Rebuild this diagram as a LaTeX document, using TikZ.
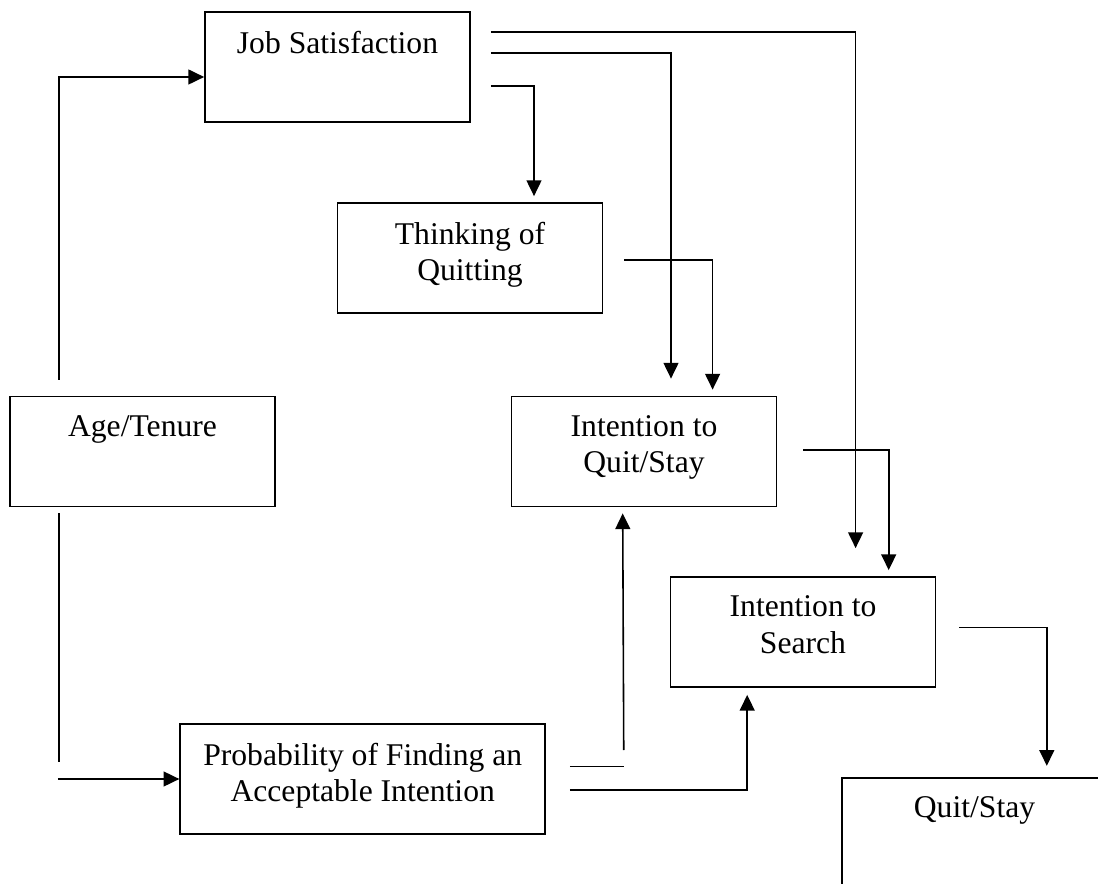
\documentclass[tikz,border=0pt]{standalone}
\usepackage{fontspec}
\setmainfont{Liberation Serif}
\usetikzlibrary{arrows.meta,calc}

\begin{document}
\begin{tikzpicture}[x=0.02cm, y=-0.02cm,
    box/.style={draw, line width=1pt, minimum width=5.3cm, minimum height=2.2cm, inner sep=0pt},
    txt/.style={anchor=north, inner sep=0pt, yshift=-11pt, align=center, font=\fontsize{18}{20.8}\selectfont},
    link/.style={line width=0.9pt},
    arr/.style={link, -{Triangle[length=9pt,width=8.5pt]}}]
    \useasboundingbox (0,0) rectangle (1098,884);
    \clip (0,0) rectangle (1098,884);

    \node[box, label={[txt]north:Job Satisfaction}] (jobsat) at (337.5,67) {};
    \node[box, label={[txt]north:{Thinking of\\Quitting}}] (think) at (470,258) {};
    \node[box, label={[txt]north:Age/Tenure}] (age) at (142.5,451.5) {};
    \node[box, label={[txt]north:{Intention to\\Quit/Stay}}] (intquit) at (644,451.5) {};
    \node[box, label={[txt]north:{Intention to\\Search}}] (intsearch) at (803,632) {};
    \node[box, minimum width=7.3cm, label={[txt]north:{Probability of Finding an\\Acceptable Intention}}] (prob) at (362.7,779) {};
    \node[box, label={[txt]north:Quit/Stay}] (quitstay) at (974.5,833) {};

    % age/tenure
    \draw[arr] ($(age.north)+(-83.5,-16)$) |- ($(jobsat.west)+(0,10)$);
    \draw[link] ($(age.south)+(-83.5,6)$) -- ($(age.south)+(-83.5,255)$);
    \draw[arr] ($(prob.west)+(-121.4,0)$) -- (prob.west);

    % job satisfaction
    \draw[arr] ($(jobsat.east)+(20,19)$) -| ($(think.north)+(64,-6)$);
    \draw[arr] ($(jobsat.east)+(20,-14)$) -| ($(intquit.north)+(27,-17)$);
    \draw[arr] ($(jobsat.east)+(20,-35)$) -| ($(intsearch.north)+(52.6,-28)$);

    \draw[arr] ($(think.east)+(20.7,2)$) -| ($(intquit.north)+(68.6,-6)$);
    \draw[arr] ($(intquit.east)+(26,-1.5)$) -| ($(intsearch.north)+(85.7,-6)$);

    % probability
    \draw[link] ($(prob.east)+(23.7,-12.3)$) -- ($(prob.east)+(77.7,-12.3)$);
    \draw[arr] ($(prob.east)+(77.7,-29)$) -- ($(intquit.south)+(-21.3,6)$);
    \draw[arr] ($(prob.east)+(23.7,11)$) -| ($(intsearch.south)+(-55.8,7)$);

    \draw[arr] ($(intsearch.east)+(22.7,-4.7)$) -| ($(quitstay.north)+(72.3,-11.3)$);
\end{tikzpicture}
\end{document}
